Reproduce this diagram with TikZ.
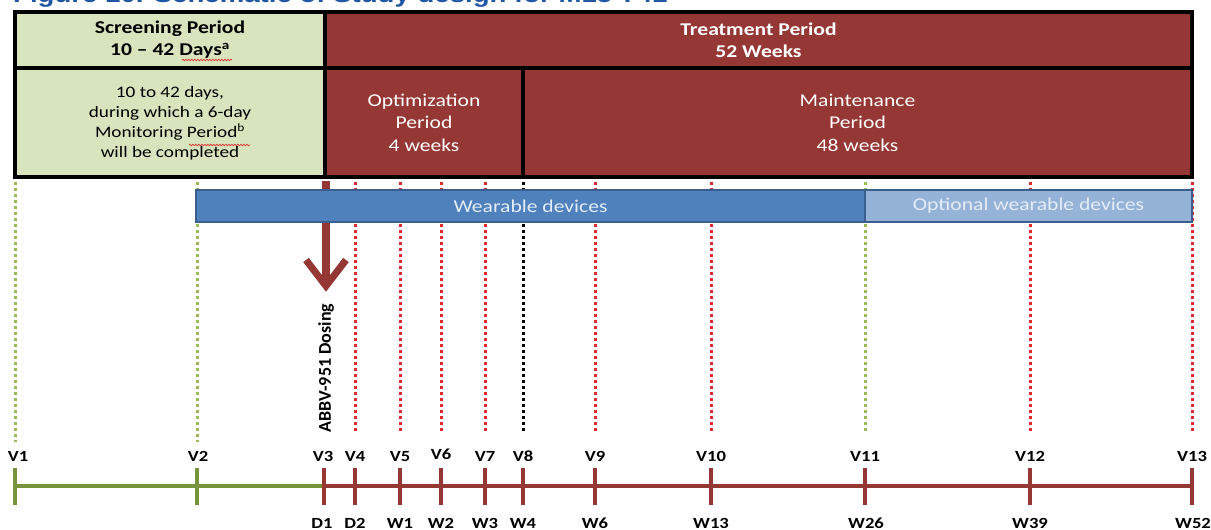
\documentclass[tikz,border=0pt]{standalone}
\usepackage{fontspec}
\setmainfont[FakeStretch=1.2]{Carlito}
\newfontfamily\uprightcarlito{Carlito}
\newfontfamily\titlefamily[FakeStretch=1.2]{Liberation Sans}
\usetikzlibrary{decorations.pathmorphing}
\definecolor{boxgreen}{HTML}{D7E4BD}
\definecolor{boxred}{HTML}{953735}
\definecolor{barblue}{HTML}{4F81BD}
\definecolor{barlight}{HTML}{95B3D7}
\definecolor{baredge}{HTML}{3A5F8F}
\definecolor{bartext}{HTML}{E4ECF6}
\definecolor{linegreen}{HTML}{77933C}
\definecolor{dotgreen}{HTML}{9BBB59}
\definecolor{dotred}{HTML}{DC2A2E}
\definecolor{titleblue}{HTML}{1F57A4}
\definecolor{spellred}{HTML}{E03030}
\begin{document}
\begin{tikzpicture}[x=1pt,y=-1pt,
  periodbox/.style={draw=black,line width=4pt,outer sep=0pt,inner sep=0pt,align=center},
  greenbox/.style={periodbox,fill=boxgreen,text=black},
  redbox/.style={periodbox,fill=boxred,text=white},
  headtext/.style={font=\fontsize{18}{22}\selectfont\bfseries},
  greentext/.style={font=\fontsize{16}{20}\selectfont},
  redtext/.style={font=\fontsize{18}{22.5}\selectfont},
  devbar/.style={draw=baredge,line width=2.5pt,outer sep=0pt,inner sep=0pt,text=bartext,font=\fontsize{18}{22}\selectfont},
  visitdots/.style={line width=3pt,dash pattern=on 3pt off 3pt},
  tick/.style={line width=4pt},
  squiggle/.style={spellred,line width=0.7pt,decorate,decoration={snake,amplitude=0.8pt,segment length=3pt}},
  visitlabel/.style={font=\fontsize{15.5}{18}\selectfont\bfseries,inner sep=0pt,anchor=base},
  titletext/.style={font=\titlefamily\fontsize{23}{26}\selectfont\bfseries,text=titleblue,inner sep=0pt}]
\useasboundingbox (0,0) rectangle (1211,530);

% heading (top edge of the page)
\node[titletext,anchor=base west] (title) at (13,2) {Figure 10. Schematic of Study design for M15-741};

% dotted visit lines
\foreach \i/\x/\c/\e in {1/15/dotgreen/442,2/197/dotgreen/442,4/355/dotred/432,5/400/dotred/432,
  6/441/dotred/432,7/485/dotred/432,8/523/black/432,9/595/dotred/432,10/711/dotred/432,
  11/865/dotgreen/432,12/1030/dotred/432,13/1192/dotred/432}{
  \coordinate (u\i) at (\x,182);
  \coordinate (d\i) at (\x,\e);
  \draw[visitdots,\c] (u\i) -- (d\i);
}

% dosing arrow
\coordinate (doseTop) at (326,181);
\coordinate (doseEnd) at (326,280);
\coordinate (doseTip) at (326,286);
\coordinate (doseL) at (306,260);
\coordinate (doseR) at (346,260);
\draw[boxred,line width=8pt] (doseTop) -- (doseEnd);
\draw[boxred,line width=7pt,line join=miter] (doseL) -- (doseTip) -- (doseR);
\node[rotate=90,font=\uprightcarlito\fontsize{18}{20}\selectfont\bfseries,inner sep=0pt] (dosing) at (326,368) {ABBV-951 Dosing};

% period boxes
\node[greenbox,headtext,minimum width=310pt,minimum height=56pt] (screenhead) at (170,40)
  {Screening Period\\10 -- 42 Days\textsuperscript{a}};
\node[greenbox,greentext,minimum width=310pt,minimum height=109pt] (screenbody) at (170,122.5)
  {\rule{0pt}{13pt}10 to 42 days,\\during which a 6-day\\Monitoring Period\textsuperscript{b}\\will be completed};
\node[redbox,headtext,minimum width=867pt,minimum height=56pt] (treathead) at (758.5,40)
  {Treatment Period\\52 Weeks};
\node[redbox,redtext,minimum width=198pt,minimum height=109pt] (optim) at (424,122.5)
  {Optimization\\Period\\4 weeks};
\node[redbox,redtext,minimum width=669pt,minimum height=109pt] (maint) at (857.5,122.5)
  {Maintenance\\Period\\48 weeks};

% spelling squiggles under "Days" and "Period"
\coordinate (sqA1) at (182,60);
\coordinate (sqA2) at (232,60);
\coordinate (sqB1) at (189,145);
\coordinate (sqB2) at (250,145);
\draw[squiggle] (sqA1) -- (sqA2);
\draw[squiggle] (sqB1) -- (sqB2);

% device bars
\node[devbar,fill=barblue,minimum width=669pt,minimum height=32pt] (wear) at (530.5,206) {Wearable devices};
\node[devbar,fill=barlight,minimum width=327pt,minimum height=32pt] (optwear) at (1028.5,206) {Optional wearable devices};

% time line
\foreach \i/\x in {1/15,2/197,3/324,4/355,5/400,6/441,7/485,8/523,9/595,10/711,11/865,12/1030,13/1192}{
  \coordinate (tl\i) at (\x,486);
  \coordinate (tt\i) at (\x,468);
  \coordinate (tb\i) at (\x,505);
}
\draw[linegreen,line width=4pt] (tl1) -- (tl3);
\draw[boxred,line width=4pt] (tl3) -- (tl13);
\foreach \i in {1,2}{\draw[tick,linegreen] (tt\i) -- (tb\i);}
\foreach \i in {3,...,13}{\draw[tick,boxred] (tt\i) -- (tb\i);}

% visit labels
\foreach \i/\x/\y in {1/18/461,2/198/461,3/323/461,4/355/461,5/400/461,6/441/459,7/485/461,8/523/461,
  9/595/461,10/711/461,11/865/461,12/1030/461,13/1192/461}{
  \node[visitlabel] (vl\i) at (\x,\y) {V\i};
}
% day / week labels
\foreach \i/\x/\t in {3/322/D1,4/355/D2,5/400/W1,6/441/W2,7/485/W3,8/523/W4,9/595/W6,
  10/711/W13,11/866/W26,12/1030/W39,13/1193/W52}{
  \node[visitlabel] (wl\i) at (\x,528) {\t};
}
\end{tikzpicture}
\end{document}
